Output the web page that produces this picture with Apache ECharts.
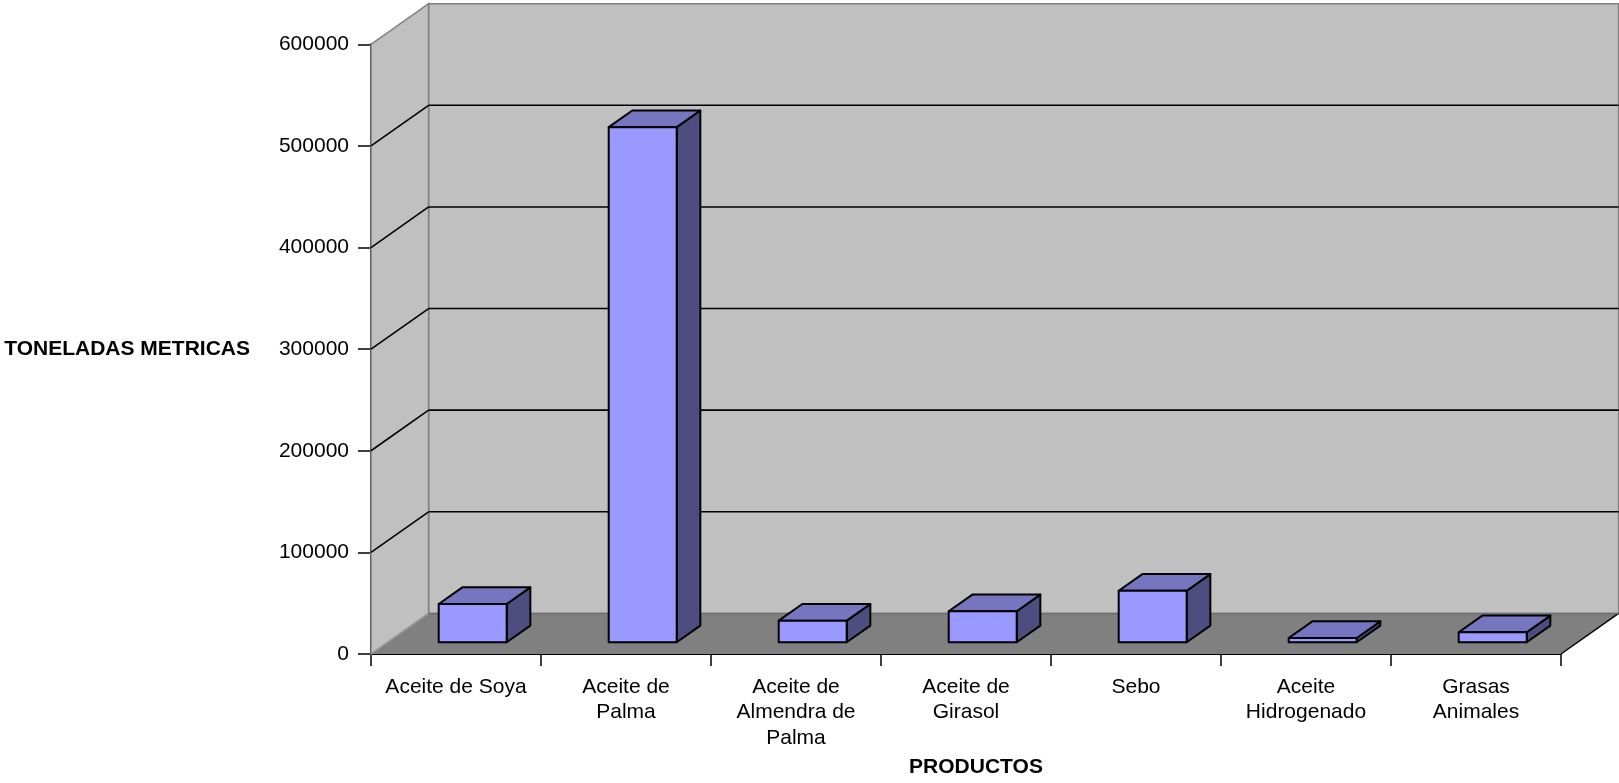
<!DOCTYPE html>
<html>
<head>
<meta charset="utf-8">
<script src="https://cdn.jsdelivr.net/npm/echarts@6/dist/echarts.min.js"></script>
<style>
  html, body { margin: 0; padding: 0; background: #ffffff; }
  #chart { width: 1619px; height: 783px; }
</style>
</head>
<body>
<div id="chart"></div>
<script>
// Product categories (x axis) and tonnage per product
const categories = [
  'Aceite de Soya',
  'Aceite de\nPalma',
  'Aceite de\nAlmendra de\nPalma',
  'Aceite de\nGirasol',
  'Sebo',
  'Aceite\nHidrogenado',
  'Grasas\nAnimales'
];
const toneladas = [37600, 506900, 21200, 30500, 50700, 4200, 9800];

// Value axis ticks
const yTicks = [0, 100000, 200000, 300000, 400000, 500000, 600000];

// Oblique projection of the depth axis, in pixels
const DEPTH_X = 57.6;
const DEPTH_Y = -40.6;
const BAR_FRONT = 0.29;  // where the bar's front face sits along the depth
const BAR_DEPTH = 0.41;  // bar thickness along the depth
const BAR_WIDTH = 0.40;  // fraction of the category band

const FONT = '"Liberation Sans", Arial, Helvetica, sans-serif';

const chart = echarts.init(document.getElementById('chart'), null, { renderer: 'canvas' });

function wallsRender(params, api) {
  const cs = params.coordSys;
  const x0 = cs.x, x1 = cs.x + cs.width;
  const yTop = cs.y, yBot = cs.y + cs.height;
  const dx = DEPTH_X, dy = DEPTH_Y;
  const children = [];
  // back wall
  children.push({
    type: 'polygon',
    shape: { points: [[x0 + dx, yTop + dy], [x1 + dx, yTop + dy], [x1 + dx, yBot + dy], [x0 + dx, yBot + dy]] },
    style: { fill: '#c0c0c0', stroke: '#808080', lineWidth: 1.5 }
  });
  // left side wall
  children.push({
    type: 'polygon',
    shape: { points: [[x0, yTop], [x0 + dx, yTop + dy], [x0 + dx, yBot + dy], [x0, yBot]] },
    style: { fill: '#c0c0c0', stroke: '#808080', lineWidth: 1.5 }
  });
  // floor
  children.push({
    type: 'polygon',
    shape: { points: [[x0, yBot], [x1, yBot], [x1 + dx, yBot + dy], [x0 + dx, yBot + dy]] },
    style: { fill: '#808080', stroke: null }
  });
  children.push({
    type: 'line',
    shape: { x1: x1, y1: yBot, x2: x1 + dx, y2: yBot + dy },
    style: { stroke: '#000', lineWidth: 1.5 }
  });
  children.push({
    type: 'line',
    shape: { x1: x0, y1: yBot, x2: x0 + dx, y2: yBot + dy },
    style: { stroke: '#9a9a9a', lineWidth: 1.5 }
  });
  children.push({
    type: 'line',
    shape: { x1: x0 + dx, y1: yBot + dy, x2: x1 + dx, y2: yBot + dy },
    style: { stroke: '#6e6e6e', lineWidth: 1.5 }
  });
  // gridlines on the back and side walls
  yTicks.forEach(function (v) {
    if (v === yTicks[0] || v === yTicks[yTicks.length - 1]) return;
    const y = api.coord([0, v])[1];
    children.push({
      type: 'line',
      shape: { x1: x0, y1: y, x2: x0 + dx, y2: y + dy },
      style: { stroke: '#000', lineWidth: 1.6 }
    });
    children.push({
      type: 'line',
      shape: { x1: x0 + dx, y1: y + dy, x2: x1 + dx, y2: y + dy },
      style: { stroke: '#000', lineWidth: 1.6 }
    });
  });
  return { type: 'group', children: children };
}

function barRender(params, api) {
  const idx = api.value(0);
  const val = api.value(1);
  const base = api.coord([idx, 0]);
  const top = api.coord([idx, val]);
  const w = api.size([1, 0])[0] * BAR_WIDTH;
  const fx = base[0] + BAR_FRONT * DEPTH_X;
  const fy = BAR_FRONT * DEPTH_Y;
  const l = fx - w / 2, r = fx + w / 2;
  const yb = base[1] + fy, yt = top[1] + fy;
  const ddx = BAR_DEPTH * DEPTH_X, ddy = BAR_DEPTH * DEPTH_Y;
  const edge = { stroke: '#000', lineWidth: 2, lineJoin: 'round' };
  return {
    type: 'group',
    children: [
      {
        type: 'polygon',
        shape: { points: [[r, yb], [r + ddx, yb + ddy], [r + ddx, yt + ddy], [r, yt]] },
        style: Object.assign({ fill: '#4d4d80' }, edge)
      },
      {
        type: 'polygon',
        shape: { points: [[l, yt], [r, yt], [r + ddx, yt + ddy], [l + ddx, yt + ddy]] },
        style: Object.assign({ fill: '#7575c0' }, edge)
      },
      {
        type: 'rect',
        shape: { x: l, y: yt, width: w, height: yb - yt },
        style: Object.assign({ fill: '#9999ff' }, edge)
      }
    ]
  };
}

const option = {
  animation: false,
  backgroundColor: '#ffffff',
  textStyle: { fontFamily: FONT },
  grid: { left: 371, top: 44.3, width: 1190, height: 610.7, containLabel: false },
  xAxis: {
    type: 'category',
    data: categories,
    name: 'PRODUCTOS',
    nameLocation: 'middle',
    nameGap: 103,
    nameTextStyle: { fontFamily: FONT, fontWeight: 'bold', fontSize: 21, color: '#000', padding: [0, 0, 0, 20] },
    axisLine: { show: true, lineStyle: { color: '#000', width: 2 } },
    axisTick: { show: true, length: 12, interval: 0, lineStyle: { color: '#000', width: 1.5 } },
    axisLabel: { interval: 0, fontFamily: FONT, fontSize: 21, lineHeight: 25.5, color: '#000', margin: 20 },
    splitLine: { show: false }
  },
  yAxis: {
    type: 'value',
    min: yTicks[0],
    max: yTicks[yTicks.length - 1],
    interval: yTicks[1] - yTicks[0],
    name: 'TONELADAS METRICAS',
    nameLocation: 'middle',
    nameRotate: 0,
    nameGap: 121,
    nameTextStyle: { fontFamily: FONT, fontWeight: 'bold', fontSize: 21, color: '#000', padding: [11, 0, 0, 0] },
    axisLine: { show: true, lineStyle: { color: '#000', width: 2 } },
    axisTick: { show: true, length: 13, lineStyle: { color: '#000', width: 1.5 } },
    axisLabel: {
      fontFamily: FONT, fontSize: 21, color: '#000', margin: 22,
      formatter: function (v) { return String(v); }
    },
    splitLine: { show: false }
  },
  series: [
    {
      type: 'custom',
      name: 'paredes',
      clip: false,
      silent: true,
      z: 1,
      renderItem: wallsRender,
      data: [[0, 0]],
      encode: { x: 0, y: 1 }
    },
    {
      type: 'custom',
      name: 'Toneladas',
      clip: false,
      z: 2,
      renderItem: barRender,
      data: toneladas.map(function (v, i) { return [i, v]; }),
      encode: { x: 0, y: 1 }
    }
  ]
};

chart.setOption(option);
</script>
</body>
</html>
